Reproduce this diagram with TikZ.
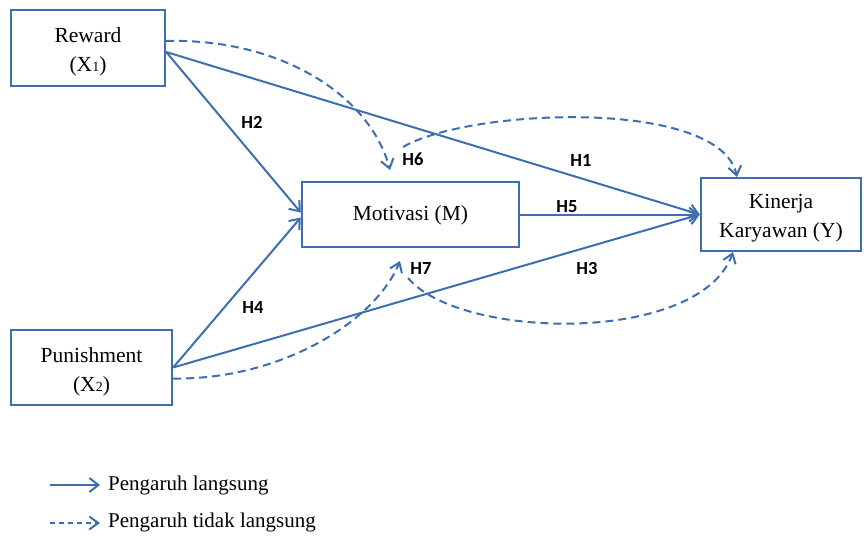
\documentclass[tikz,border=0pt]{standalone}
\usepackage{fontspec}
\setmainfont{Liberation Serif}
\newfontfamily\labfont{Carlito}
\usetikzlibrary{arrows.meta}
\definecolor{lineblue}{RGB}{62,110,176}
\tikzset{
  box/.style={draw=lineblue, line width=2.4pt, rectangle, inner sep=0pt},
  boxtext/.style={align=center, inner sep=0pt, yshift=-4pt,
    font=\fontsize{21.5}{29}\selectfont},
  direct/.style={draw=lineblue, line width=2pt, -{Straight Barb[length=9pt,width=14pt,line width=2pt]}},
  indirect/.style={draw=lineblue, line width=2pt, dash pattern=on 8pt off 5pt,
    -{Straight Barb[length=9pt,width=13pt,line width=2pt]}},
  hlab/.style={font=\labfont\bfseries\fontsize{18.5}{18.5}\selectfont, inner sep=0pt},
  legtext/.style={font=\fontsize{21}{21}\selectfont, anchor=west, inner sep=0pt}
}
\newcommand{\smallsub}[1]{{\fontsize{14}{14}\selectfont #1}}
\begin{document}
\begin{tikzpicture}[x=1pt, y=-1pt]
\useasboundingbox (0,0) rectangle (864,535);
% boxes
\node[box, minimum width=154pt, minimum height=76pt,
  label={[boxtext]center:Reward\\(X\smallsub{1})}] (reward) at (88,48) {};
\node[box, minimum width=217pt, minimum height=65pt,
  label={[boxtext, yshift=3pt]center:Motivasi (M)}] (motiv) at (410.5,214.5) {};
\node[box, minimum width=160pt, minimum height=73pt,
  label={[boxtext]center:Kinerja\\Karyawan (Y)}] (kin) at (781,214.5) {};
\node[box, minimum width=161pt, minimum height=75pt,
  label={[boxtext]center:Punishment\\(X\smallsub{2})}] (pun) at (91.5,367.5) {};
% anchor coordinates
\coordinate (rs) at ([yshift=-4pt]reward.east);
\coordinate (rd) at ([yshift=7pt]reward.east);
\coordinate (ps) at ([yshift=0pt]pun.east);
\coordinate (pd) at ([yshift=-11pt]pun.east);
\coordinate (m2) at ([yshift=2pt]motiv.west);
\coordinate (m4) at ([yshift=-3pt]motiv.west);
\coordinate (h6tip) at (390,170);
\coordinate (h6start) at (403,147);
\coordinate (h7tip) at (400,261);
\coordinate (h7start) at (408,278);
\coordinate (ktop) at (737,177);
\coordinate (kbot) at (733,252);
% direct effects
\draw[direct] (rs) -- (kin.west);
\draw[direct] (rs) -- (m2);
\draw[direct] (ps) -- (m4);
\draw[direct] (ps) -- (kin.west);
\draw[direct] (motiv.east) -- (kin.west);
% indirect effects
\draw[indirect] (rd) .. controls (280,38) and (370,95) .. (h6tip);
\draw[indirect] (h6start) .. controls (470,108) and (720,98) .. (ktop);
\draw[indirect] (pd) .. controls (280,380) and (375,322) .. (h7tip);
\draw[indirect] (h7start) .. controls (460,340) and (700,345) .. (kbot);
% labels
\node[hlab] (lh2) at (252,122) {H2};
\node[hlab] (lh6) at (413,159) {H6};
\node[hlab] (lh1) at (581,160) {H1};
\node[hlab] (lh5) at (567,207) {H5};
\node[hlab] (lh3) at (587,268) {H3};
\node[hlab] (lh4) at (253,307) {H4};
\node[hlab] (lh7) at (421,268) {H7};
% legend
\coordinate (l1a) at (50,485);
\coordinate (l1b) at (100,485);
\coordinate (l2a) at (50,523);
\coordinate (l2b) at (100,523);
\draw[direct] (l1a) -- (l1b);
\draw[indirect, dash pattern=on 5pt off 4pt] (l2a) -- (l2b);
\node[legtext] (t1) at (108,485) {Pengaruh langsung};
\node[legtext] (t2) at (108,522) {Pengaruh tidak langsung};
\end{tikzpicture}
\end{document}
